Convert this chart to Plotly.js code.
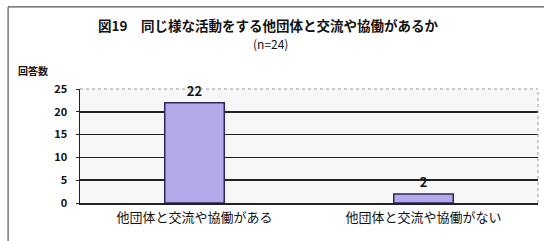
<!DOCTYPE html>
<html><head><meta charset="utf-8">
<script src="https://cdn.plot.ly/plotly-3.0.1.min.js"></script>
<style>html,body{margin:0;padding:0;background:#fff}</style>
</head><body><div id="chart" style="width:544px;height:241px"></div>
<script>
const categories = ["他団体と交流や協働がある", "他団体と交流や協働がない"];
const counts = [22, 2];
const yTicks = [0, 5, 10, 15, 20, 25];

const F = '"Noto Sans CJK JP", "Noto Sans", sans-serif';
const data = [{
  type: 'bar', x: categories, y: counts,
  text: counts.map(String), textposition: 'outside', cliponaxis: false,
  textfont: {family: F, size: 13, color: '#111', weight: 'bold'},
  marker: {color: '#b3aaea', line: {color: '#2a2a5a', width: 1.5}},
  width: 0.26
}];
const layout = {
  width: 544, height: 241,
  margin: {l: 80, r: 6, t: 89, b: 38},
  paper_bgcolor: '#ffffff', plot_bgcolor: '#f7f7f7',
  showlegend: false,
  xaxis: {type: 'category', tickfont: {family: F, size: 13, color: '#111'}, ticks: '', showline: true, linecolor: '#222', linewidth: 1.5, ticklabelstandoff: 2},
  yaxis: {range: [0, 25], tickvals: yTicks, tickfont: {family: F, size: 11, color: '#111', weight: 'bold'},
    showgrid: true, gridcolor: '#222', gridwidth: 1.5, showline: true, linecolor: '#222', linewidth: 1.5,
    ticks: 'outside', ticklen: 3, tickcolor: '#222', zeroline: false, ticklabelstandoff: 6},
  annotations: [
    {xref: 'paper', yref: 'paper', x: 0.41, y: 1.56, xanchor: 'center', yanchor: 'middle', showarrow: false,
     text: '図19　同じ様な活動をする他団体と交流や協働があるか', font: {family: F, size: 13.5, color: '#111', weight: 'bold'}},
    {xref: 'paper', yref: 'paper', x: 0.415, y: 1.40, xanchor: 'center', yanchor: 'middle', showarrow: false,
     text: '(n=24)', font: {family: F, size: 12, color: '#111'}},
    {xref: 'paper', yref: 'paper', x: -0.14, y: 1.16, xanchor: 'left', yanchor: 'middle', showarrow: false,
     text: '回答数', font: {family: F, size: 10, color: '#111', weight: 'bold'}}
  ],
  shapes: [
    {type: 'line', xref: 'paper', yref: 'paper', x0: 0, x1: 1, y0: 1, y1: 1, line: {color: '#999', width: 1, dash: 'dot'}},
    {type: 'line', xref: 'paper', yref: 'paper', x0: 1, x1: 1, y0: 0, y1: 1, line: {color: '#999', width: 1, dash: 'dot'}},
    {type: 'line', xref: 'paper', yref: 'paper', x0: -0.157, x1: -0.157, y0: -0.4, y1: 1.72, line: {color: '#555', width: 1.2}},
    {type: 'line', xref: 'paper', yref: 'paper', x0: -0.157, x1: 1.02, y0: 1.72, y1: 1.72, line: {color: '#555', width: 1.2}}
  ]
};
Plotly.newPlot('chart', data, layout, {displayModeBar: false, staticPlot: true});
</script></body></html>
